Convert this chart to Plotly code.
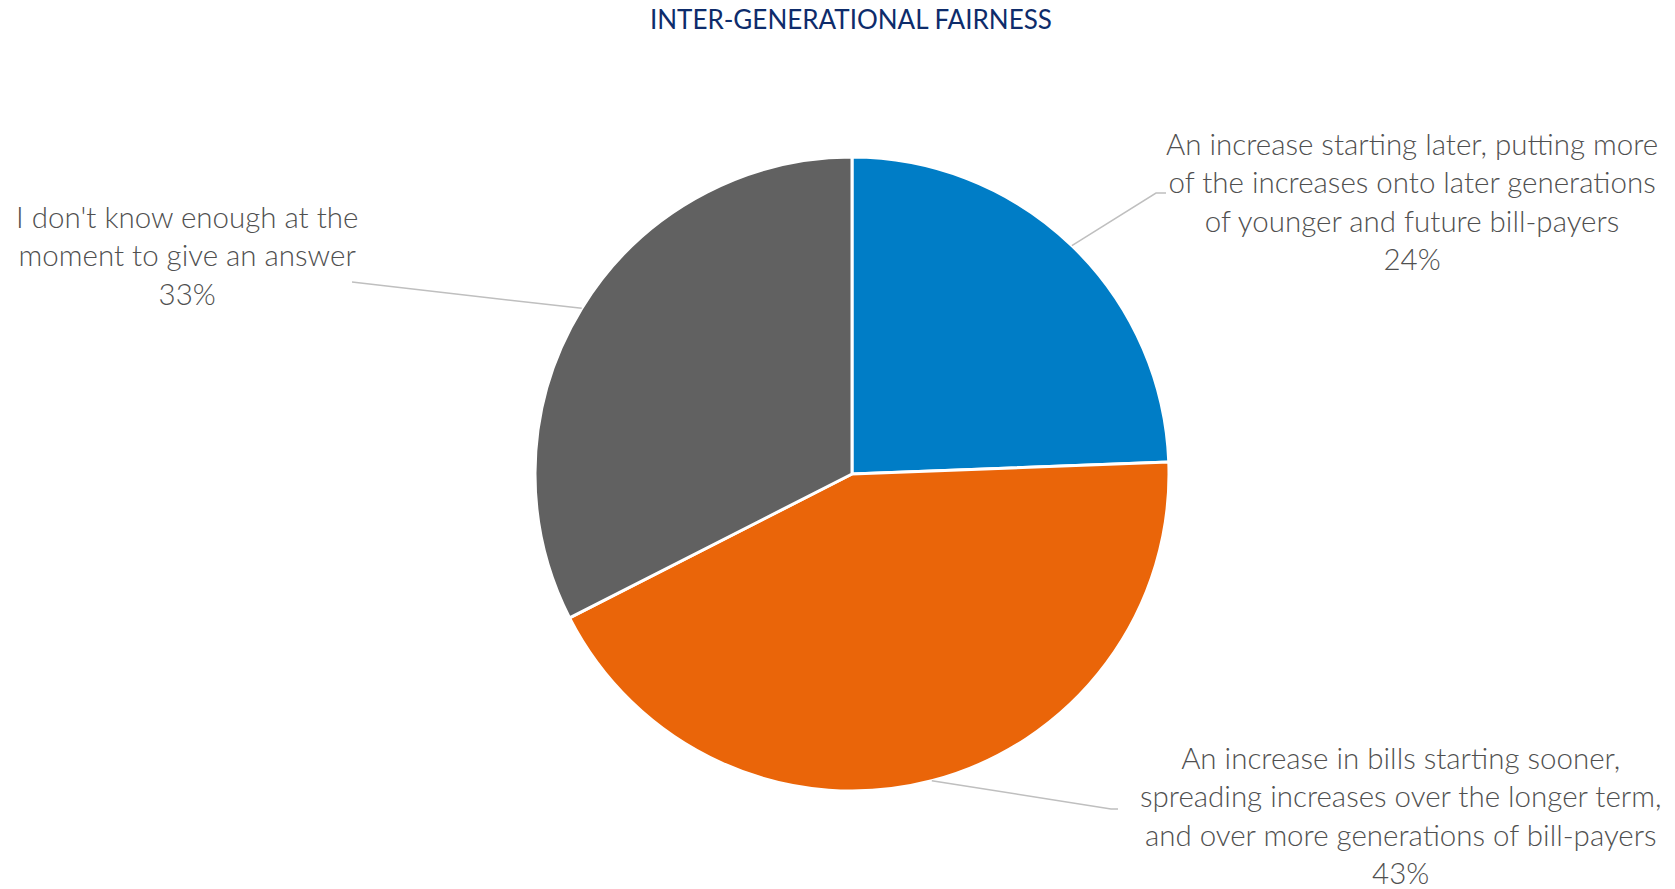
import math
import plotly.graph_objects as go

# ---- data ----
labels = [
    "An increase starting later, putting more<br>of the increases onto later generations<br>of younger and future bill-payers",
    "An increase in bills starting sooner,<br>spreading increases over the longer term,<br>and over more generations of bill-payers",
    "I don't know enough at the<br>moment to give an answer",
]
values = [24.4, 43.1, 32.5]
colors = ["#007DC6", "#EA6509", "#616161"]

# ---- layout constants ----
W, H = 1675, 889
cx, cy, r = 852, 474, 317          # pie centre / radius in px
text_pos = [(1412, 201), (1400, 815), (187, 255)]   # label centres (px)
elbow = [(1156, 193, 1166), (1111, 809, 1118), None]  # leader line knee
FONT = "Lato"
TXT = "#505050"

fig = go.Figure(go.Pie(
    labels=labels, values=values, sort=False, direction="clockwise", rotation=0,
    marker=dict(colors=colors, line=dict(color="white", width=3)),
    textinfo="none", hoverinfo="label+percent", showlegend=False,
    domain=dict(x=[(cx - r) / W, (cx + r) / W], y=[1 - (cy + r) / H, 1 - (cy - r) / H]),
))

def px(x, y):
    return x / W, 1 - y / H

annotations = []
shapes = []
total = sum(values)
cum = 0
for i, v in enumerate(values):
    mid = (cum + v / 2) / total * 2 * math.pi
    cum += v
    ex = cx + r * math.sin(mid)
    ey = cy - r * math.cos(mid)
    tx, ty = text_pos[i]
    pct = f"{int(math.floor(v / total * 100 + 0.5))}%"
    annotations.append(dict(
        x=px(tx, ty)[0], y=px(tx, ty)[1], xref="paper", yref="paper",
        text=labels[i] + "<br>" + pct, showarrow=False, align="center",
        xanchor="center", yanchor="middle",
        font=dict(family=FONT, size=29.5, color=TXT, weight=300),
    ))
    if elbow[i]:
        kx, ky, hx = elbow[i]
        pts = [(ex, ey), (kx, ky), (hx, ky)]
    else:
        pts = [(ex, ey), (352, 282)]
    path = "M " + " L ".join(f"{px(a, b)[0]},{px(a, b)[1]}" for a, b in pts)
    shapes.append(dict(type="path", path=path, xref="paper", yref="paper",
                       line=dict(color="#BFBFBF", width=1.5)))

fig.update_layout(
    width=W, height=H,
    margin=dict(l=0, r=0, t=0, b=0),
    paper_bgcolor="white", plot_bgcolor="white",
    title=dict(text="INTER-GENERATIONAL FAIRNESS", x=0.508, xanchor="center",
               y=1 - 20 / H, yanchor="middle",
               font=dict(family=FONT, size=26, color="#0E2C6B")),
    annotations=annotations, shapes=shapes,
)

fig.write_html("out.html")
